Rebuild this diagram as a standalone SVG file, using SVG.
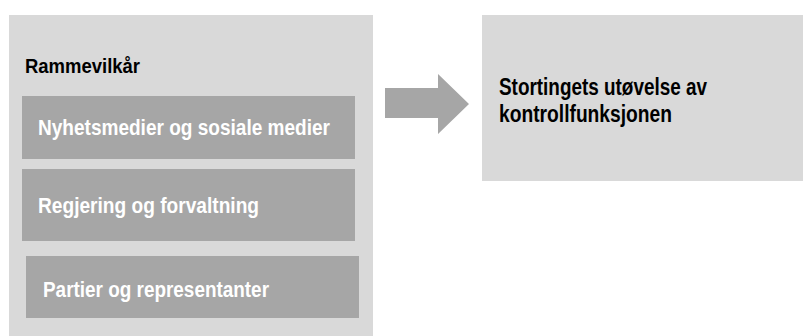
<svg xmlns="http://www.w3.org/2000/svg" width="803" height="336" viewBox="0 0 803 336">
<style>
.outer{fill:#d9d9d9}
.inner{fill:#a6a6a6}
.t{font-family:"Liberation Sans",Arial,sans-serif;font-weight:bold}
.w{fill:#ffffff;font-size:22px}
.b{fill:#000000}
</style>
<rect width="803" height="336" fill="#ffffff"/>
<g id="rammevilkar">
<rect class="outer" x="9" y="15" width="364" height="325"/>
<text class="t b" x="25" y="73" font-size="20" textLength="115" lengthAdjust="spacingAndGlyphs">Rammevilkår</text>
</g>
<g id="nyhetsmedier">
<rect class="inner" x="22" y="96" width="333" height="63"/>
<text class="t w" x="38" y="135" textLength="292" lengthAdjust="spacingAndGlyphs">Nyhetsmedier og sosiale medier</text>
</g>
<g id="regjering">
<rect class="inner" x="22" y="169" width="333" height="72"/>
<text class="t w" x="38" y="213" textLength="221" lengthAdjust="spacingAndGlyphs">Regjering og forvaltning</text>
</g>
<g id="partier">
<rect class="inner" x="26" y="256" width="333" height="62"/>
<text class="t w" x="43" y="297" textLength="226" lengthAdjust="spacingAndGlyphs">Partier og representanter</text>
</g>
<g id="connectors">
<polygon class="inner" points="385,88 438,88 438,74 469,104 438,134 438,118 385,118"/>
</g>
<g id="stortinget">
<rect class="outer" x="482" y="15" width="321" height="166"/>
<text class="t b" x="499" y="95" font-size="23" textLength="208" lengthAdjust="spacingAndGlyphs">Stortingets utøvelse av</text>
<text class="t b" x="499" y="122" font-size="23" textLength="173" lengthAdjust="spacingAndGlyphs">kontrollfunksjonen</text>
</g>
</svg>
